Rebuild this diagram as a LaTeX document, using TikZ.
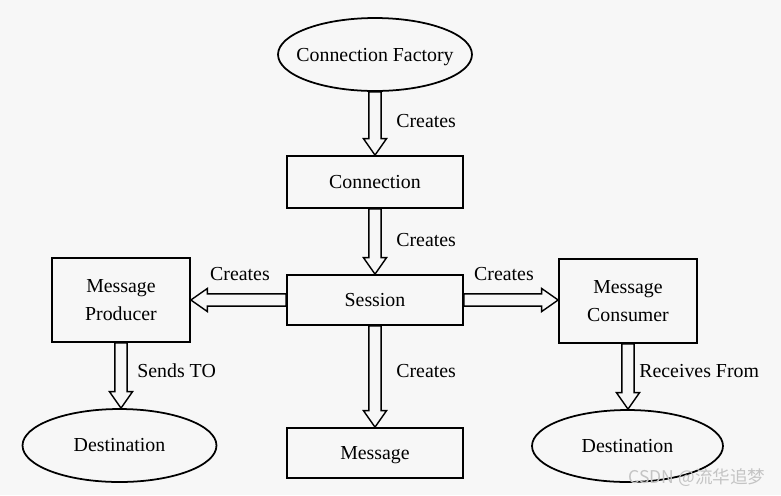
\documentclass[tikz,border=0pt]{standalone}
\usepackage{fontspec}
\setmainfont{Liberation Serif}
\newfontfamily\cjkfont{Noto Sans CJK SC}
\usetikzlibrary{shapes,calc}
\definecolor{bgcol}{HTML}{F7F7F7}
\definecolor{markgray}{HTML}{C4C4C4}

\begin{document}
\begin{tikzpicture}[x=0.02cm, y=-0.02cm,
    every node/.style={font=\fontsize{11.3}{15.9}\selectfont},
    box/.style={rectangle, draw, line width=1pt, align=center, inner sep=0pt, text depth=0pt},
    elli/.style={ellipse, draw, line width=1pt, inner sep=0pt, minimum width=3.88cm, minimum height=1.46cm},
    lbl/.style={inner sep=0pt},
    arr/.style={single arrow, draw, fill=bgcol, line width=0.8pt, inner sep=3.1pt, outer sep=0pt,
        single arrow head extend=3.1pt, single arrow tip angle=70},
    hollow/.style={to path={let \p1=(\tikztostart), \p2=(\tikztotarget),
        \n1={veclen(\x2-\x1,\y2-\y1)}, \n2={atan2(\y2-\y1,\x2-\x1)} in
        node[arr, minimum height=\n1, rotate=\n2, anchor=tail] at (\p1) {}}}]
    \fill[bgcol] (0,0) rectangle (781,495);
    \useasboundingbox (0,0) rectangle (781,495);

    % Factory and connection
    \node[elli, label={[text depth=0pt]center:Connection Factory}] (cf) at (375,54.5) {};
    \node[box, minimum width=3.52cm, minimum height=1.04cm] (conn) at (375,182) {Connection};

    % Session in the middle
    \node[box, minimum width=3.52cm, minimum height=1cm] (sess) at (375,300) {Session};
    \node[box, minimum width=3.52cm, minimum height=1cm] (msg) at (375,453) {Message};

    % Producer side
    \node[box, minimum width=2.76cm, minimum height=1.68cm] (prod) at (121,300) {Message\\Producer};
    \node[elli, label=center:Destination] (destl) at (119.5,445.5) {};

    % Consumer side
    \node[box, minimum width=2.76cm, minimum height=1.68cm] (cons) at (628,301) {Message\\Consumer};
    \node[elli, minimum width=3.82cm, minimum height=1.44cm, label=center:Destination] (destr) at (627.5,446) {};

    % Arrows
    \path (cf.south) to[hollow] (conn.north);
    \path (conn.south) to[hollow] (sess.north);
    \path (sess.south) to[hollow] (msg.north);
    \path (sess.west) to[hollow] (sess.west -| prod.east);
    \path (sess.east) to[hollow] (sess.east -| cons.west);
    \path (prod.south) to[hollow] (prod.south |- destl.north);
    \path (cons.south) to[hollow] (cons.south |- destr.north);

    % Labels
    \node[lbl, anchor=west] (l1) at (396,121) {Creates};
    \node[lbl, anchor=west] (l2) at (396,240) {Creates};
    \node[lbl] (l3) at (240,274) {Creates};
    \node[lbl] (l4) at (504,274) {Creates};
    \node[lbl, anchor=west] (l5) at (396,371) {Creates};
    \node[lbl, anchor=west] (l6) at (137,371) {Sends TO};
    \node[lbl, anchor=west] (l7) at (639,371) {Receives From};

    \node[text=markgray, font=\cjkfont\fontsize{10}{12}\selectfont] (mark) at (697,478) {CSDN @流华追梦};
\end{tikzpicture}
\end{document}
